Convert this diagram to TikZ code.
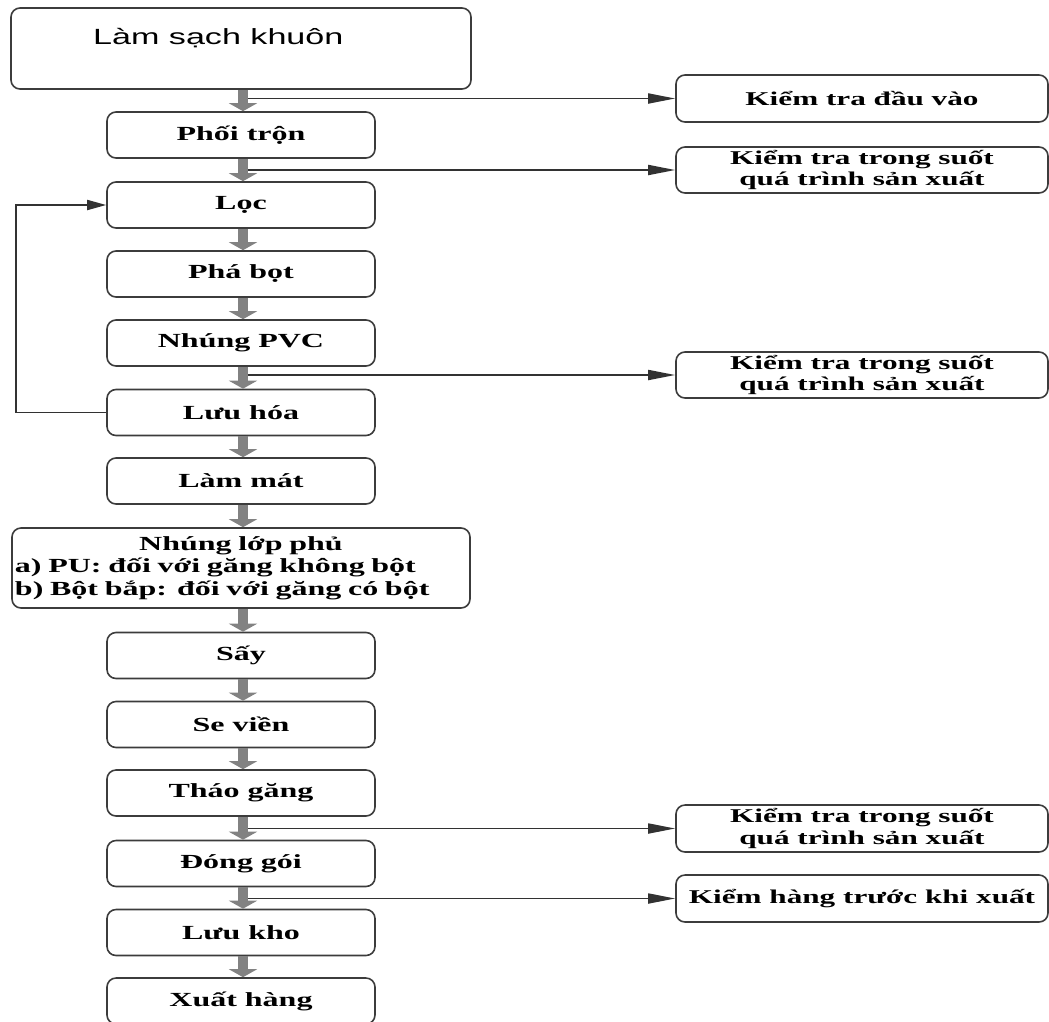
\documentclass[tikz,border=0pt]{standalone}
\usepackage{fontspec}
\setmainfont{Liberation Serif}[FakeStretch=1.6]
\newfontfamily\vnsans{Liberation Sans}[FakeStretch=1.55]
\usetikzlibrary{arrows.meta}
\definecolor{boxc}{RGB}{60,60,60}
\definecolor{linec}{RGB}{50,50,50}
\definecolor{flowc}{RGB}{130,130,130}
\begin{document}
\begin{tikzpicture}[x=1pt,y=-1pt,
  box/.style={draw=boxc, line width=1.6pt, rounded corners=9pt, minimum width=268pt,
    minimum height=46pt, inner sep=0pt, align=center,
    font=\fontsize{20}{22}\selectfont\bfseries},
  rbox/.style={box, minimum width=372pt, minimum height=47pt,
    font=\fontsize{19.5}{21.5}\selectfont\bfseries},
  flow/.style={draw=flowc, line width=10pt, -{Triangle[length=8pt,width=28pt]}},
  chk/.style={draw=linec, line width=1.8pt, -{Triangle[length=27pt,width=10pt]}},
  loopar/.style={draw=linec, line width=1.8pt, -{Triangle[length=19pt,width=10pt]}},
]
\useasboundingbox (0,0) rectangle (1049,1021);

% main column
\node[box, minimum width=460pt, minimum height=81pt] (top) at (241,48.5) {};
\node[anchor=base west, inner sep=0pt, font=\vnsans\fontsize{22}{24}\selectfont] (toplbl) at (93,44) {Làm sạch khuôn};
\node[box] (p1) at (241,135) {Phối trộn};
\node[box] (p2) at (241,205) {Lọc};
\node[box] (p3) at (241,274) {Phá bọt};
\node[box] (p4) at (241,343) {Nhúng PVC};
\node[box] (p5) at (241,412.5) {Lưu hóa};
\node[box] (p6) at (241,481) {Làm mát};
\node[box, minimum width=458pt, minimum height=80pt, text width=452pt, align=left,
  font=\fontsize{20}{22.5}\selectfont\bfseries] (p7) at (241,568)
  {\makebox[452pt]{Nhúng lớp phủ}\\a) PU: đối với găng không bột\\b) Bột bắp: đối với găng có bột};
\node[box] (p8) at (241,655.5) {Sấy};
\node[box] (p9) at (241,724.5) {Se viền};
\node[box] (p10) at (241,793) {Tháo găng};
\node[box] (p11) at (241,863.5) {Đóng gói};
\node[box] (p12) at (241,932.5) {Lưu kho};
\node[box] (p13) at (241,1001) {Xuất hàng};

% right column
\node[rbox] (r1) at (862,98.5) {Kiểm tra đầu vào};
\node[rbox, minimum height=46pt] (r2) at (862,170) {Kiểm tra trong suốt\\quá trình sản xuất};
\node[rbox, minimum height=46pt] (r3) at (862,375) {Kiểm tra trong suốt\\quá trình sản xuất};
\node[rbox] (r4) at (862,828.5) {Kiểm tra trong suốt\\quá trình sản xuất};
\node[rbox] (r5) at (862,898.5) {Kiểm hàng trước khi xuất};

% flow arrows
\foreach \a/\b in {top/p1,p1/p2,p2/p3,p3/p4,p4/p5,p5/p6,p6/p7,p7/p8,p8/p9,p9/p10,p10/p11,p11/p12,p12/p13}
  \draw[flow] ([xshift=2pt]\a.south) -- ([xshift=2pt]\b.north);

% check branches
\coordinate (j1) at ([xshift=7pt]top.south |- r1.west);
\coordinate (j2) at ([xshift=7pt]p1.south |- r2.west);
\coordinate (j3) at ([xshift=7pt]p4.south |- r3.west);
\coordinate (j4) at ([xshift=7pt]p10.south |- r4.west);
\coordinate (j5) at ([xshift=7pt]p11.south |- r5.west);
\draw[chk] (j1) -- (r1.west);
\draw[chk] (j2) -- (r2.west);
\draw[chk] (j3) -- (r3.west);
\draw[chk] (j4) -- (r4.west);
\draw[chk] (j5) -- (r5.west);

% loop back
\draw[loopar] (p5.west) -- ++(-90,0) |- (p2.west);
\end{tikzpicture}
\end{document}
